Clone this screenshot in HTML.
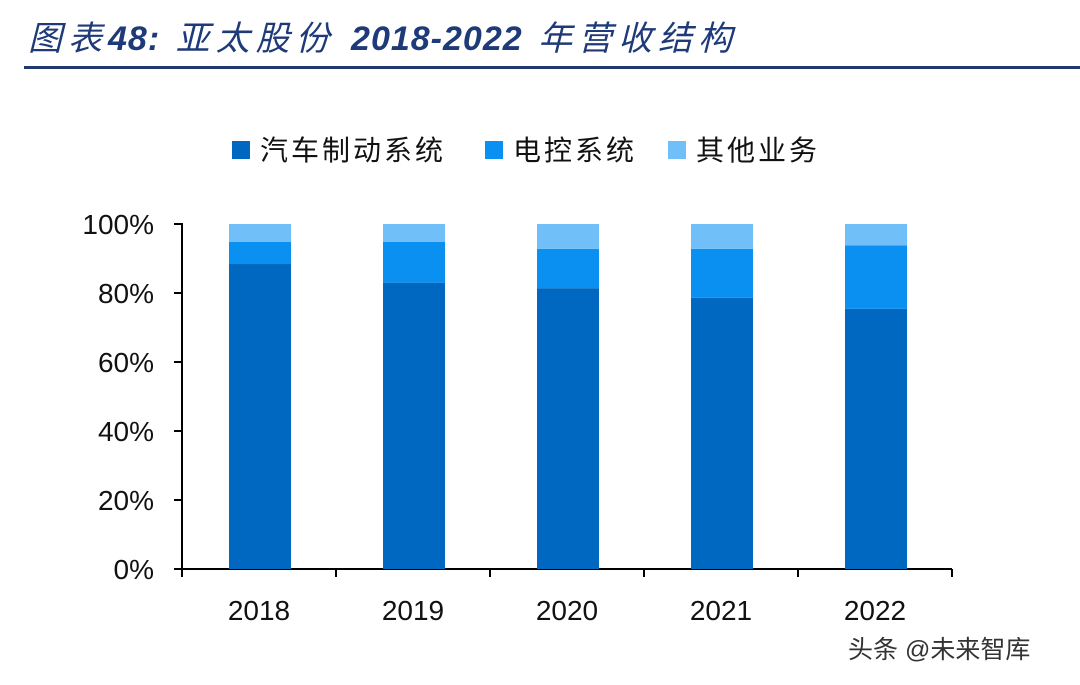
<!DOCTYPE html>
<html><head><meta charset="utf-8"><style>
body{margin:0;background:#fff;width:1080px;height:680px;overflow:hidden;font-family:"Liberation Sans","Noto Sans CJK SC",sans-serif}
</style></head><body>
<svg width="1080" height="680" xmlns="http://www.w3.org/2000/svg">
<text x="28" y="50" font-size="34" font-style="italic" fill="#1f3a78" letter-spacing="6" font-family="Liberation Sans,Noto Sans CJK SC,sans-serif">图表<tspan font-weight="bold" letter-spacing="1">48:</tspan> 亚太股份 <tspan font-weight="bold" letter-spacing="1">2018-2022</tspan> 年营收结构</text>
<rect x="24" y="66" width="1056" height="3" fill="#1f3a6e"/>
<g id="legend"></g>
<g id="plot"></g>
<text x="848" y="658" font-size="25" fill="#333">头条 @未来智库</text>
</svg>
<script>
const categories=["2018","2019","2020","2021","2022"];
const brake=[88.4,83.0,81.4,78.6,75.4];
const electronic=[6.4,11.8,11.4,14.2,18.4];
const other=[5.2,5.2,7.2,7.2,6.2];
const seriesNames=["汽车制动系统","电控系统","其他业务"];
const yTicks=["0%","20%","40%","60%","80%","100%"];
const colors=["#0068c0","#0a90f0","#70bff8"];
const NS="http://www.w3.org/2000/svg";
const plot=document.getElementById('plot');
const x0=182,x1=952,y0=569,y1=224;
const y=v=>y0-(v/100)*(y0-y1);
const step=(x1-x0)/categories.length;
const xc=i=>x0+step*(i+0.5);
function mk(t,a,p){const e=document.createElementNS(NS,t);for(const k in a)e.setAttribute(k,a[k]);(p||plot).appendChild(e);return e;}
const ax=mk('path',{d:`M${x0-8} ${y1}H${x0}V${y0}H${x1}`,stroke:'#000','stroke-width':2,fill:'none'});


yTicks.forEach((t,i)=>{const v=i*20;
const l=mk('line',{x1:x0-8,x2:x0,y1:y(v),y2:y(v),stroke:'#000','stroke-width':2});


const tx=mk('text',{x:x0-28,y:y(v)+10,'font-size':28,'text-anchor':'end',fill:'#111'});tx.textContent=t;

});
for(let i=0;i<=categories.length;i++){const l=mk('line',{x1:x0+step*i,x2:x0+step*i,y1:y0,y2:y0+8,stroke:'#000','stroke-width':2});

}
const bw=62;
categories.forEach((c,i)=>{let base=0;[brake,electronic,other].forEach((s,k)=>{
const r=mk('rect',{x:xc(i)-bw/2+1,y:y(base+s[i]),width:bw,height:y(base)-y(base+s[i]),fill:colors[k]});


base+=s[i];});
const t=mk('text',{x:xc(i),y:620,'font-size':28,'text-anchor':'middle',fill:'#111'});t.textContent=c;

});
const lg=document.getElementById('legend');
const lx=[232,485,668];
seriesNames.forEach((n,k)=>{const r=mk('rect',{x:lx[k],y:141,width:18,height:18,fill:colors[k]},lg);


const t=mk('text',{x:lx[k]+28,y:160,'font-size':28,fill:'#111','letter-spacing':3},lg);t.textContent=n;

});
</script>
</body></html>
